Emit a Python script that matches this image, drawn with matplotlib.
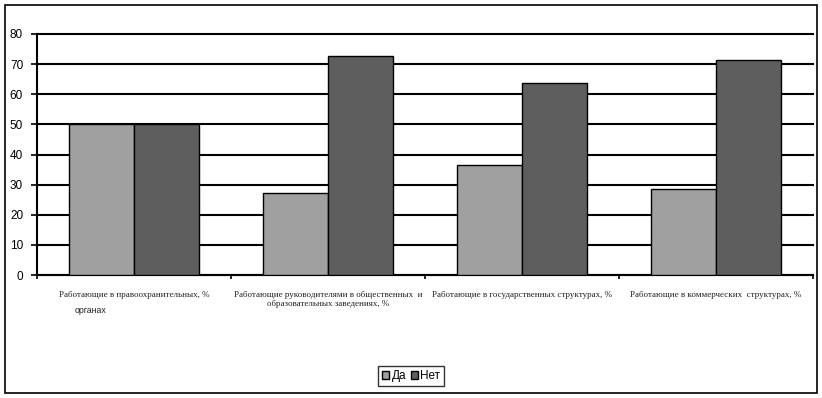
import matplotlib
matplotlib.use("Agg")
import matplotlib.pyplot as plt
import numpy as np
from matplotlib.patches import Rectangle

categories = [
    "Работающие в правоохранительных, %",
    "Работающие руководителями в общественных  и\nобразовательных заведениях, %",
    "Работающие в государственных структурах, %",
    "Работающие в коммерческих  структурах, %",
]
series_names = ["Да", "Нет"]
yes_vals = [50.0, 27.3, 36.4, 28.6]
no_vals = [50.0, 72.7, 63.6, 71.4]
yticks = [0, 10, 20, 30, 40, 50, 60, 70, 80]

fig = plt.figure(figsize=(8.22, 3.98), dpi=100)
fig.patches.append(Rectangle((5/822, 5/398), 812/822, 388/398, transform=fig.transFigure,
                             fill=False, edgecolor="black", linewidth=1.2))
ax = fig.add_axes([37/822, 1-275/398, (813-37)/822, (275-34)/398])

x = np.arange(len(categories))
w = 1/3
ax.bar(x - w/2, yes_vals, width=w, color="#a0a0a0", edgecolor="black", linewidth=1.0, label=series_names[0], zorder=3)
ax.bar(x + w/2, no_vals, width=w, color="#5e5e5e", edgecolor="black", linewidth=1.0, label=series_names[1], zorder=3)

ax.set_xlim(-0.5, len(categories) - 0.5)
ax.set_ylim(0, 80)
ax.set_yticks(yticks)
ax.set_yticklabels([str(t) for t in yticks], family="Liberation Sans", fontsize=8.5)
ax.yaxis.grid(True, color="black", linewidth=1.5, zorder=0)
for gl in ax.get_ygridlines():
    gl.set_clip_on(False)
ax.set_axisbelow(True)
for s in ["top", "right"]:
    ax.spines[s].set_visible(False)
ax.spines["left"].set_linewidth(1.5)
ax.spines["bottom"].set_linewidth(1.5)
ax.tick_params(axis="y", direction="out", length=4, width=1.2, pad=6)
ax.set_xticks(np.arange(len(categories) + 1) - 0.5)
ax.set_xticklabels([])
ax.tick_params(axis="x", direction="out", length=3, width=1.2)

trans = ax.get_xaxis_transform()
for i, lab in enumerate(categories):
    ax.text(i, -0.066, lab, transform=trans, ha="center", va="top", family="Liberation Serif",
            fontsize=6.5, color="#222222", linespacing=1.25)
ax.text(-0.305, -0.13, "органах", transform=trans, ha="left", va="top",
        family="Liberation Sans", fontsize=6.3, color="#222222")

leg = fig.legend(loc="center", bbox_to_anchor=(411/822, 1-376/398), ncol=2, frameon=True,
                 fancybox=False, edgecolor="black", handlelength=0.6, handleheight=0.6,
                 handletextpad=0.2, columnspacing=0.4, borderpad=0.3,
                 prop={"family": "Liberation Sans", "size": 8.5})
leg.get_frame().set_linewidth(1.0)

fig.savefig("out.png", dpi=100)
